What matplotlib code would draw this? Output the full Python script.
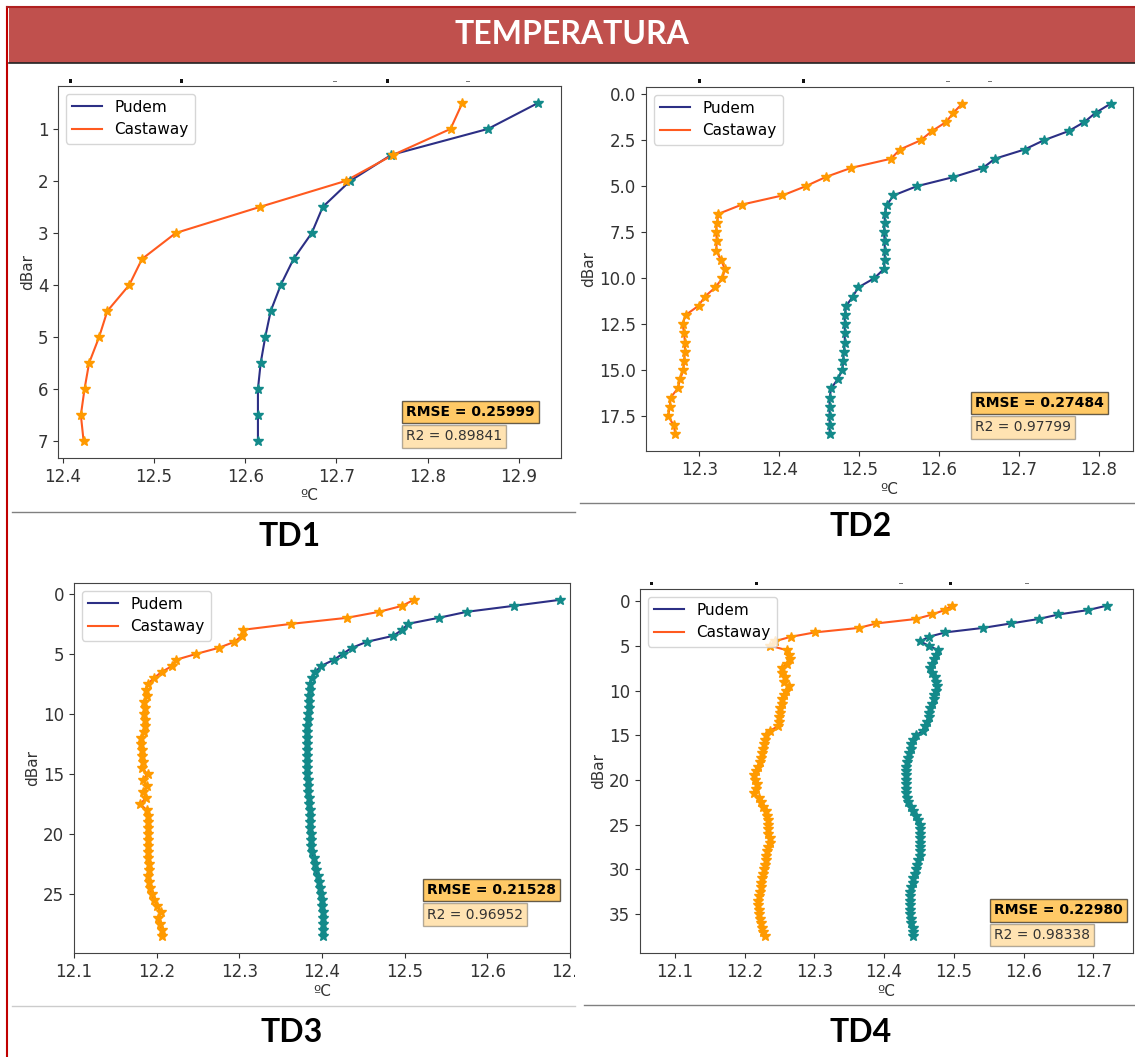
import matplotlib.pyplot as plt
from matplotlib.patches import Rectangle
from matplotlib.lines import Line2D

# ============================================================
# DATOS: perfiles de temperatura (ºC) por presión (dBar)
# ============================================================

prof_td1 = [0.5, 1.0, 1.5, 2.0, 2.5, 3.0, 3.5, 4.0, 4.5, 5.0, 5.5, 6.0, 6.5, 7.0]
pudem_td1 = [12.921, 12.866, 12.760, 12.715, 12.685, 12.673, 12.653, 12.639,
             12.628, 12.622, 12.617, 12.614, 12.614, 12.614]
castaway_td1 = [12.838, 12.825, 12.762, 12.710, 12.616, 12.524, 12.487, 12.473,
                12.449, 12.440, 12.429, 12.424, 12.420, 12.423]

prof_td2 = [0.5, 1.0, 1.5, 2.0, 2.5, 3.0, 3.5, 4.0, 4.5, 5.0, 5.5, 6.0, 6.5,
            7.0, 7.5, 8.0, 8.5, 9.0, 9.5, 10.0, 10.5, 11.0, 11.5, 12.0, 12.5,
            13.0, 13.5, 14.0, 14.5, 15.0, 15.5, 16.0, 16.5, 17.0, 17.5, 18.0, 18.5]
pudem_td2 = [12.815, 12.796, 12.782, 12.762, 12.731, 12.707, 12.670, 12.655,
             12.618, 12.572, 12.543, 12.535, 12.532, 12.532, 12.531, 12.532,
             12.532, 12.532, 12.531, 12.519, 12.499, 12.492, 12.484, 12.482,
             12.482, 12.482, 12.482, 12.481, 12.480, 12.479, 12.473, 12.465,
             12.463, 12.463, 12.463, 12.463, 12.463]
castaway_td2 = [12.629, 12.618, 12.609, 12.591, 12.577, 12.551, 12.540, 12.490,
                12.458, 12.433, 12.404, 12.353, 12.324, 12.322, 12.321, 12.322,
                12.321, 12.327, 12.332, 12.329, 12.320, 12.307, 12.299, 12.283,
                12.279, 12.281, 12.282, 12.282, 12.281, 12.280, 12.276, 12.273,
                12.264, 12.263, 12.261, 12.268, 12.270]

prof_td3 = [0.5, 1.0, 1.5, 2.0, 2.5, 3.0, 3.5, 4.0, 4.5, 5.0, 5.5, 6.0, 6.5,
            7.0, 7.5, 8.0, 8.5, 9.0, 9.5, 10.0, 10.5, 11.0, 11.5, 12.0, 12.5,
            13.0, 13.5, 14.0, 14.5, 15.0, 15.5, 16.0, 16.5, 17.0, 17.5, 18.0,
            18.5, 19.0, 19.5, 20.0, 20.5, 21.0, 21.5, 22.0, 22.5, 23.0, 23.5,
            24.0, 24.5, 25.0, 25.5, 26.0, 26.5, 27.0, 27.5, 28.0, 28.5]
pudem_td3 = [12.688, 12.632, 12.575, 12.541, 12.504, 12.497, 12.486, 12.454,
             12.436, 12.425, 12.414, 12.399, 12.392, 12.388, 12.385, 12.385,
             12.384, 12.384, 12.384, 12.383, 12.383, 12.382, 12.382, 12.382,
             12.382, 12.382, 12.382, 12.382, 12.382, 12.382, 12.383, 12.383,
             12.383, 12.384, 12.384, 12.385, 12.385, 12.386, 12.386, 12.387,
             12.387, 12.387, 12.388, 12.390, 12.392, 12.393, 12.395, 12.396,
             12.398, 12.399, 12.400, 12.400, 12.401, 12.401, 12.401, 12.401,
             12.401]
castaway_td3 = [12.511, 12.497, 12.469, 12.430, 12.363, 12.304, 12.303, 12.294,
                12.275, 12.248, 12.223, 12.219, 12.206, 12.197, 12.189, 12.187,
                12.188, 12.185, 12.186, 12.185, 12.186, 12.186, 12.185, 12.181,
                12.181, 12.182, 12.182, 12.183, 12.182, 12.189, 12.183, 12.188,
                12.184, 12.187, 12.180, 12.188, 12.189, 12.189, 12.190, 12.190,
                12.189, 12.190, 12.190, 12.190, 12.191, 12.191, 12.190, 12.191,
                12.192, 12.194, 12.197, 12.200, 12.205, 12.202, 12.204, 12.206,
                12.207]

prof_td4 = [0.5, 1.0, 1.5, 2.0, 2.5, 3.0, 3.5, 4.0, 4.5, 5.0, 5.5, 6.0, 6.5,
            7.0, 7.5, 8.0, 8.5, 9.0, 9.5, 10.0, 10.5, 11.0, 11.5, 12.0, 12.5,
            13.0, 13.5, 14.0, 14.5, 15.0, 15.5, 16.0, 16.5, 17.0, 17.5, 18.0,
            18.5, 19.0, 19.5, 20.0, 20.5, 21.0, 21.5, 22.0, 22.5, 23.0, 23.5,
            24.0, 24.5, 25.0, 25.5, 26.0, 26.5, 27.0, 27.5, 28.0, 28.5, 29.0,
            29.5, 30.0, 30.5, 31.0, 31.5, 32.0, 32.5, 33.0, 33.5, 34.0, 34.5,
            35.0, 35.5, 36.0, 36.5, 37.0, 37.5]
pudem_td4 = [12.720, 12.693, 12.650, 12.622, 12.582, 12.542, 12.488, 12.464,
             12.452, 12.464, 12.478, 12.474, 12.471, 12.469, 12.466, 12.469,
             12.473, 12.475, 12.476, 12.474, 12.472, 12.471, 12.469, 12.466,
             12.465, 12.464, 12.461, 12.458, 12.456, 12.446, 12.441, 12.439,
             12.438, 12.436, 12.434, 12.433, 12.432, 12.432, 12.432, 12.432,
             12.432, 12.432, 12.432, 12.433, 12.434, 12.438, 12.442, 12.446,
             12.449, 12.451, 12.452, 12.452, 12.452, 12.452, 12.452, 12.452,
             12.451, 12.449, 12.447, 12.446, 12.444, 12.442, 12.441, 12.439,
             12.437, 12.437, 12.437, 12.437, 12.437, 12.437, 12.438, 12.439,
             12.441, 12.442, 12.442]
castaway_td4 = [12.497, 12.487, 12.469, 12.446, 12.389, 12.364, 12.301, 12.266,
                12.243, 12.237, 12.261, 12.264, 12.265, 12.261, 12.253, 12.254,
                12.258, 12.256, 12.263, 12.259, 12.256, 12.254, 12.253, 12.251,
                12.251, 12.250, 12.250, 12.248, 12.236, 12.231, 12.229, 12.228,
                12.227, 12.225, 12.223, 12.222, 12.219, 12.217, 12.214, 12.215,
                12.218, 12.217, 12.214, 12.220, 12.224, 12.227, 12.231, 12.232,
                12.233, 12.234, 12.233, 12.234, 12.236, 12.237, 12.233, 12.232,
                12.231, 12.231, 12.229, 12.228, 12.227, 12.225, 12.224, 12.223,
                12.222, 12.220, 12.219, 12.219, 12.220, 12.220, 12.222, 12.224,
                12.225, 12.227, 12.229]

# Errores entre sensores
rmse = ["0.25999", "0.27484", "0.21528", "0.22980"]
r2 = ["0.89841", "0.97799", "0.96952", "0.98338"]
nombres = ["TD1", "TD2", "TD3", "TD4"]

# ============================================================
# FIGURA
# ============================================================
W, H = 1135, 1057
fig = plt.figure(figsize=(W / 100, H / 100), dpi=100)


def caja(x0, y0, x1, y1):
    # convierte pixeles (origen arriba a la izquierda) a fraccion de figura
    return [x0 / W, 1 - y1 / H, (x1 - x0) / W, (y1 - y0) / H]


def perfil(pos, prof, pudem, castaway, i, xlim=None, xy_err=(0.7, 0.12, 0.05)):
    ax = fig.add_axes(caja(*pos))
    ax.plot(pudem, prof, color="#2c2f85", lw=1.5, label="Pudem")
    ax.plot(castaway, prof, color="#ff5a1f", lw=1.5, label="Castaway")
    ax.plot(pudem, prof, "*", color="#138a8a", ms=7, zorder=3)
    ax.plot(castaway, prof, "*", color="#ff9a00", ms=7, zorder=3)
    ax.invert_yaxis()
    if xlim is not None:
        ax.set_xlim(*xlim)
    ax.set_xlabel("ºC", fontsize=11, color="#333333", labelpad=2)
    ax.set_ylabel("dBar", fontsize=11, color="#333333", labelpad=2)
    ax.tick_params(labelsize=12, colors="#333333")
    for s in ax.spines.values():
        s.set_color("#444444")
    ax.legend(loc="upper left", fontsize=11)
    xt, y_rmse, y_r2 = xy_err
    ax.text(xt, y_rmse, "RMSE = " + rmse[i], transform=ax.transAxes,
            fontsize=10, fontweight="bold", va="center", ha="left",
            bbox=dict(facecolor="orange", alpha=0.6, pad=3))
    ax.text(xt, y_r2, "R2 = " + r2[i], transform=ax.transAxes,
            fontsize=10, va="center", ha="left", color="#333333",
            bbox=dict(facecolor="orange", alpha=0.3, pad=3))
    return ax


perfil((58, 86, 561, 458), prof_td1, pudem_td1, castaway_td1, 0,
       xy_err=(0.692, 0.124, 0.058))
perfil((646, 87, 1133, 451), prof_td2, pudem_td2, castaway_td2, 1,
       xy_err=(0.676, 0.132, 0.065))
perfil((74, 583, 570, 953), prof_td3, pudem_td3, castaway_td3, 2,
       xlim=(12.1, 12.7), xy_err=(0.712, 0.170, 0.104))
perfil((640, 589, 1133, 953), prof_td4, pudem_td4, castaway_td4, 3,
       xlim=(12.05, 12.757), xy_err=(0.718, 0.117, 0.049))

# ============================================================
# ENCABEZADO Y MARCO
# ============================================================
fig.patches.append(Rectangle((9 / W, 1 - 63 / H), 1 - 9 / W, 55 / H,
                             transform=fig.transFigure, facecolor="#c0504d",
                             edgecolor="none", zorder=5))
fig.text(572 / W, 1 - 35 / H, "TEMPERATURA", color="white", fontsize=23,
         fontweight="bold", family="Lato", ha="center", va="center", zorder=6)

# recorte a la derecha del panel TD3
fig.patches.append(Rectangle((575 / W, 1 - 990 / H), 25 / W, 35 / H,
                             transform=fig.transFigure, facecolor="white",
                             edgecolor="none", zorder=5))

# restos del titulo recortado sobre cada grafica
puntos = [(70, 81), (181, 81), (387, 81), (699, 81), (803, 81),
          (651, 583), (756, 583), (950, 583)]
guiones = [(335, 81), (468, 81), (948, 81), (990, 81), (901, 583), (1027, 583)]
for x, y in puntos:
    fig.patches.append(Rectangle(((x - 1.5) / W, 1 - (y + 1.5) / H), 3 / W, 3 / H,
                                 transform=fig.transFigure, facecolor="#111111",
                                 edgecolor="none", zorder=5))
for x, y in guiones:
    fig.patches.append(Rectangle(((x - 2) / W, 1 - (y + 0.5) / H), 4 / W, 1 / H,
                                 transform=fig.transFigure, facecolor="#777777",
                                 edgecolor="none", zorder=5))

lineas = [
    ((7, 7), (7, 1057), "#c00000", 1.5),
    ((7, 1135), (7, 7), "#b02020", 1.5),
    ((9, 1135), (63, 63), "#222222", 1.2),
    ((12, 575), (512, 512), "#808080", 1.0),
    ((580, 1135), (503, 503), "#808080", 1.0),
    ((12, 575), (1006, 1006), "#cccccc", 1.0),
    ((584, 1135), (1005, 1005), "#808080", 1.0),
]
for xs, ys, c, w in lineas:
    fig.add_artist(Line2D([x / W for x in xs], [1 - y / H for y in ys],
                          color=c, lw=w, zorder=6))

# Etiquetas de cada estación
etiquetas_xy = [(290, 537), (861, 527), (292, 1032), (861, 1032)]
for nombre, (x, y) in zip(nombres, etiquetas_xy):
    fig.text(x / W, 1 - y / H, nombre, fontsize=23, fontweight="bold",
             family="Lato", ha="center", va="center")

plt.savefig("out.png", dpi=100)
